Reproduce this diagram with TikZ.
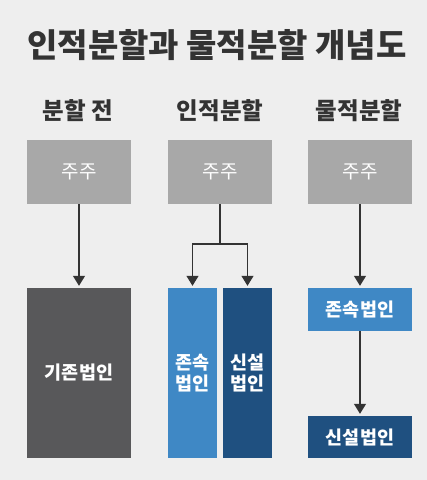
\documentclass[tikz,border=0pt]{standalone}
\usepackage{fontspec}
\setmainfont{Noto Sans CJK KR}
\usetikzlibrary{arrows.meta}
\definecolor{bgcol}{HTML}{EEEEEE}
\definecolor{holdcol}{HTML}{A8A8A8}
\definecolor{oldcol}{HTML}{58585A}
\definecolor{keepcol}{HTML}{3F88C5}
\definecolor{newcol}{HTML}{1F5080}
\definecolor{inkcol}{HTML}{333333}
\begin{document}
\begin{tikzpicture}[x=1pt,y=-1pt,
  box/.style={rectangle,inner sep=0pt,text=white,align=center},
  arr/.style={draw=inkcol,line width=1.3pt,-{Triangle[length=10pt,width=12pt]},shorten >=2pt},
  link/.style={draw=inkcol,line width=1.3pt}]
  \fill[bgcol] (0,0) rectangle (427,480);
  \node[text=inkcol,font=\fontsize{33}{38}\selectfont\bfseries] (title) at (217,45) {인적분할과 물적분할 개념도};
  \foreach \x/\t/\n in {78/분할 전/h1, 220/인적분할/h2, 359/물적분할/h3}
    \node[text=inkcol,font=\fontsize{23.5}{27}\selectfont\bfseries] (\n) at (\x,111) {\t};
  \foreach \x/\n in {79/sh1, 220/sh2, 360/sh3}
    \node[box,fill=holdcol,minimum width=104pt,minimum height=64pt,font=\fontsize{19}{22}\selectfont] (\n) at (\x,172) {주주};
  \node[box,fill=oldcol,minimum width=104pt,minimum height=170pt,font=\fontsize{18.5}{21}\selectfont\bfseries] (old) at (79,373) {기존법인};
  \node[box,fill=keepcol,minimum width=49pt,minimum height=170pt,font=\fontsize{18.5}{21}\selectfont\bfseries] (keep2) at (192.5,373) {존속\\법인};
  \node[box,fill=newcol,minimum width=49pt,minimum height=170pt,font=\fontsize{18.5}{21}\selectfont\bfseries] (new2) at (247.5,373) {신설\\법인};
  \node[box,fill=keepcol,minimum width=104pt,minimum height=43pt,font=\fontsize{18.5}{21}\selectfont\bfseries] (keep3) at (360,309.5) {존속법인};
  \node[box,fill=newcol,minimum width=104pt,minimum height=42pt,font=\fontsize{18.5}{21}\selectfont\bfseries] (new3) at (360,437) {신설법인};
  \coordinate (fork) at (220,244);
  \draw[arr] (sh1) -- (old);
  \draw[link] (sh2) -- (fork);
  \draw[arr] (fork) -| (keep2);
  \draw[arr] (fork) -| (new2);
  \draw[arr] (sh3) -- (keep3);
  \draw[arr] (keep3) -- (new3);
\end{tikzpicture}
\end{document}
